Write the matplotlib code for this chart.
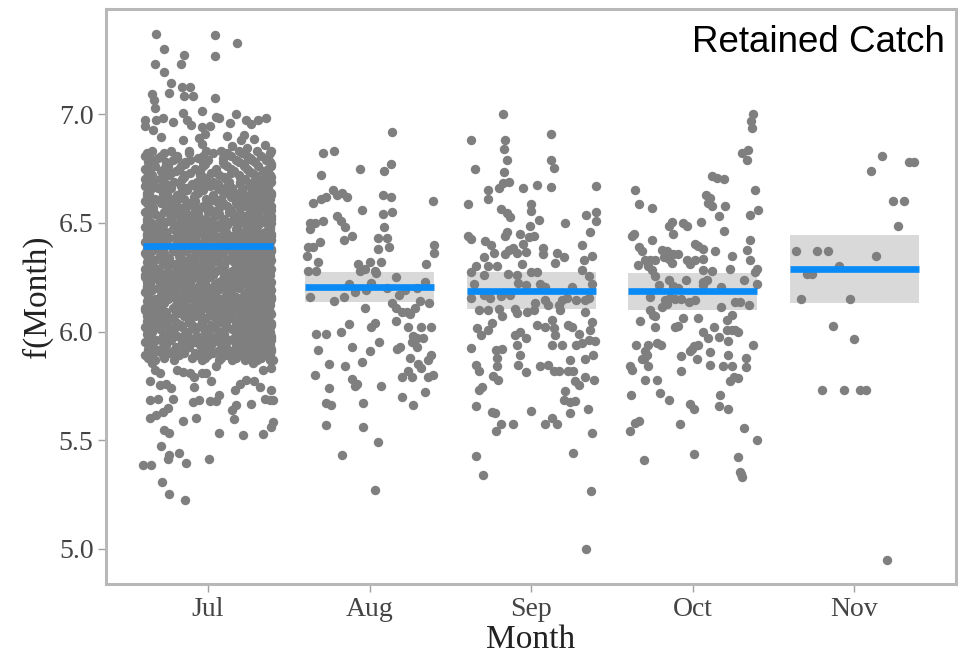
import matplotlib
matplotlib.use('Agg')
import matplotlib.pyplot as plt

months = ['Jul', 'Aug', 'Sep', 'Oct', 'Nov']
fit = [6.395, 6.206, 6.187, 6.187, 6.289]
lower = [6.37, 6.137, 6.102, 6.099, 6.13]
upper = [6.42, 6.275, 6.275, 6.271, 6.446]

# partial residuals: (jitter offset, value)
jul_tails = [
    (-0.32, 7.37), (0.04, 7.365), (0.18, 7.33), (-0.275, 7.30), (-0.15, 7.275), (-0.165, 7.23),
    (0.04, 7.27), (-0.33, 7.23), (-0.27, 7.195), (-0.23, 7.145), (-0.24, 7.10), (-0.16, 7.125),
    (-0.11, 7.125), (-0.15, 7.085), (-0.095, 7.085), (-0.345, 7.095), (-0.335, 7.065), (-0.33, 7.03),
    (0.045, 7.075), (-0.035, 7.015), (-0.155, 7.005), (-0.13, 6.975), (-0.105, 6.95), (0.05, 6.99),
    (0.065, 6.985), (0.175, 7.0), (-0.39, 6.975), (-0.39, 6.945), (-0.32, 6.975), (-0.28, 6.985),
    (-0.22, 6.965), (0.135, 6.96), (0.235, 6.975), (0.31, 6.975), (0.36, 6.985), (0.265, 6.955),
    (-0.04, 6.94), (0.01, 6.945), (-0.02, 6.91), (-0.34, 6.93), (-0.29, 6.895), (-0.155, 6.88),
    (-0.055, 6.89), (0.12, 6.90), (0.225, 6.905), (0.205, 6.88), (0.285, 6.885), (0.35, 6.86),
    (-0.04, 6.865), (0.145, 6.855), (0.24, 6.845),
    (0.07, 5.535), (0.215, 5.525), (0.34, 5.53), (0.39, 5.56), (0.40, 5.585), (-0.27, 5.545),
    (-0.24, 5.535), (-0.155, 5.59), (-0.075, 5.60), (0.16, 5.595), (-0.29, 5.475), (-0.25, 5.415),
    (-0.24, 5.43), (-0.18, 5.44), (-0.135, 5.395), (0.005, 5.415), (-0.40, 5.385), (-0.355, 5.385),
    (-0.285, 5.305), (-0.24, 5.25), (-0.14, 5.225),
    (-0.36, 5.60), (-0.32, 5.615), (-0.28, 5.63), (-0.25, 5.65), (-0.36, 5.685), (-0.31, 5.69),
    (-0.22, 5.69), (-0.095, 5.675), (-0.055, 5.685), (0.01, 5.68), (0.05, 5.68), (0.145, 5.64),
    (0.175, 5.66), (0.265, 5.665), (0.35, 5.69), (0.38, 5.685), (0.40, 5.685), (0.39, 5.73),
    (-0.36, 5.77), (-0.30, 5.755), (-0.26, 5.76), (-0.23, 5.74), (-0.085, 5.745), (0.02, 5.77),
    (0.07, 5.71), (0.165, 5.73), (0.195, 5.76), (0.235, 5.775), (0.285, 5.77), (0.32, 5.745),
    (0.05, 5.84), (-0.35, 5.855), (-0.33, 5.825), (-0.30, 5.81), (-0.195, 5.825), (-0.155, 5.815),
    (-0.115, 5.81), (-0.085, 5.79), (-0.04, 5.81), (-0.01, 5.81), (0.275, 5.855), (0.34, 5.825),
    (0.39, 5.83), (0.40, 5.87), (0.38, 5.89), (0.34, 5.94),
]

# dense July block: value (x100) -> jitter offsets (x100)
jul_rows = {
    683: [-35, -12, 8, 30], 682: [-27, 3, 21, 38], 681: [-39, -19, 14, 33], 680: [-31, -6, 26],
    679: [-22, 0, 17, 36], 678: [-37, -14, 9, 29], 677: [-26, -2, 22, 39], 676: [-33, -17, 12, 31],
    675: [-39, -8, 5, 24, 37], 674: [-29, -20, 16, 34], 673: [-36, -11, 2, 27], 672: [-24, -5, 19, 38],
    671: [-38, -15, 10, 30], 670: [-30, -1, 23, 35], 669: [-34, -21, -7, 13, 28, 39],
    668: [-26, -10, 6, 20, 33], 667: [-39, -17, 1, 25, 37], 666: [-31, -23, -4, 15, 30],
    665: [-36, -13, 8, 21, 35], 664: [-28, -6, 11, 27, 39], 663: [-38, -19, 3, 18, 32],
    662: [-25, -9, 14, 24, 36], 661: [-33, -15, -1, 22, 38], 660: [-39, -21, 5, 17, 29],
    659: [-29, -11, 9, 26, 34], 658: [-35, -3, 12, 31, 39], 657: [-23, -16, 7, 20, 36],
    656: [-37, -8, 2, 28, 33],
    655: [-39, -27, -14, 0, 13, 26, 38], 654: [-33, -20, -6, 7, 19, 31, 37],
    653: [-37, -23, -10, 4, 16, 29, 39], 652: [-30, -17, -2, 10, 23, 34],
    651: [-38, -25, -12, 1, 15, 27, 36], 650: [-35, -21, -7, 8, 20, 32, 39],
    649: [-28, -15, -3, 12, 24, 37], 648: [-39, -31, -18, -5, 6, 18, 30],
    647: [-34, -22, -9, 3, 17, 28, 38], 646: [-26, -13, 0, 11, 22, 35],
    645: [-38, -29, -16, -4, 9, 25, 33], 644: [-32, -19, -8, 5, 14, 27, 39],
    643: [-36, -24, -11, 2, 19, 30, 36], 642: [-29, -17, -1, 13, 23, 34],
    641: [-39, -26, -12, 6, 16, 28, 38], 640: [-33, -20, -6, 8, 21, 31, 37],
    639: [-37, -28, -15, -2, 11, 25, 35], 638: [-31, -9, 4, 18, 29, 39],
    637: [-35, -22, -13, 1, 15, 26, 33], 636: [-39, -27, -5, 9, 20, 36],
    635: [-30, -18, -8, 7, 23, 32, 38], 634: [-36, -24, -11, 3, 14, 28],
    633: [-33, -16, -3, 12, 19, 34, 39], 632: [-38, -26, -10, 6, 25, 31],
    631: [-28, -21, -7, 2, 17, 29, 37], 630: [-35, -14, 0, 10, 22, 35],
    629: [-39, -31, -19, -4, 8, 27, 33], 628: [-25, -12, 5, 15, 24, 38],
    627: [-37, -29, -17, -6, 11, 20, 36], 626: [-32, -22, -9, 3, 18, 30],
    625: [-39, -27, -14, 1, 13, 26, 34], 624: [-34, -19, -2, 9, 23, 37],
    623: [-30, -24, -11, 7, 16, 29, 39], 622: [-36, -16, -5, 4, 21, 32],
    621: [-38, -28, -13, -1, 12, 25, 35], 620: [-31, -20, -8, 10, 19, 30, 38],
    619: [-35, -23, -3, 6, 27, 33], 618: [-39, -26, -15, 2, 14, 24, 36],
    617: [-29, -10, -6, 11, 22, 31], 616: [-37, -21, -12, 5, 17, 28, 39],
    615: [-33, -25, -4, 8, 20, 35], 614: [-38, -18, -9, 0, 15, 26, 32],
    613: [-27, -14, 3, 12, 23, 37], 612: [-35, -30, -7, 9, 18, 29, 38],
    611: [-39, -22, -11, -2, 13, 25, 34], 610: [-32, -17, 4, 16, 21, 36],
    609: [-36, -26, -13, 1, 10, 27, 31], 608: [-29, -20, -5, 7, 19, 33, 39],
    607: [-38, -15, -8, 3, 24, 30], 606: [-34, -23, -1, 14, 22, 37],
    605: [-31, -27, -12, 6, 11, 28, 35], 604: [-37, -19, -4, 9, 17, 32, 39],
    603: [-25, -10, 2, 20, 26, 34], 602: [-39, -33, -16, -6, 12, 23, 38],
    601: [-30, -21, -9, 5, 15, 29, 36], 600: [-35, -24, -2, 8, 18, 31],
    599: [-38, -14, 0, 21, 27, 37], 598: [-28, -19, -7, 10, 24, 33],
    597: [-36, -11, 4, 16, 30, 39], 596: [-32, -23, -3, 13, 26, 35],
    595: [-39, -16, -9, 7, 20, 31], 594: [-26, -5, 2, 17, 28, 38],
    593: [-34, -20, -12, 11, 23, 36], 592: [-37, -29, -1, 9, 25, 32],
    591: [-31, -15, 6, 14, 29, 39], 590: [-35, -24, -8, 3, 19, 34],
    589: [-39, -18, 0, 12, 22, 37], 588: [-27, -10, 8, 26, 33], 587: [-33, -21, -4, 15, 30],
}

# second pass of the July block, filling between the first
jul_rows_b = {
    683: [-23, -1, 19, 39], 682: [-38, -12, 12], 681: [-29, -3, 24], 680: [-19, 9, 37],
    679: [-35, -11, 27], 678: [-26, -3, 19, 38], 677: [-36, -14, 10], 676: [-25, -3, 22, 39],
    675: [-27, -18, 14], 674: [-38, -5, 5, 25], 673: [-23, 14, 37], 672: [-35, -15, 7, 29],
    671: [-27, -3, 20, 39], 670: [-39, -16, 11], 669: [3, 20], 668: [-37, -2, 27],
    667: [-28, -8, 12], 666: [-13, 6, 37], 665: [-25, -3, 28], 664: [-38, -17, 19],
    663: [-28, -8, 25, 39], 662: [-36, -17, 3], 661: [-24, 8, 30], 660: [-30, -8, 37],
    659: [-38, -20, 0, 17], 658: [-24, -13, 22], 657: [-34, -5, 28], 656: [-26, -17, 14, 39],
    655: [-20, 6], 654: [-13, 25], 653: [-30, 22], 652: [-38, -9, 16, 39], 651: [-5, 21],
    650: [-28, 0], 649: [-38, -21, 4, 30], 648: [-11, 24, 38], 647: [-16, 10],
    646: [-37, -19, -6, 28], 645: [2, 17, 39], 644: [-38, -13, 21], 643: [-17, 10],
    642: [-38, -8, 6, 39], 641: [-19, -3, 22], 640: [-13, 1, 14], 639: [-8, 4, 18],
    638: [-38, -20, 11, 23], 637: [-6, 8, 39], 636: [-17, 2, 28], 635: [-38, -1, 15],
    634: [-17, 21, 36], 633: [-25, 4, 27], 632: [-18, -2, 16, 38], 631: [-36, -14, 10, 23],
    630: [-25, -6, 29], 629: [-11, 17, 39], 628: [-35, -3, 31], 627: [2, 28],
    626: [-39, -15, 10, 38], 625: [-20, -6, 19], 624: [-26, -10, 16, 30], 623: [-38, -2, 22],
    622: [-26, 12, 38], 621: [-20, 5, 19], 620: [-38, 1, 25], 619: [-13, 15, 39],
    618: [-7, 30], 617: [-37, -19, 2, 38], 616: [-29, -3, 11], 615: [-14, 27, 39],
    614: [-27, 7, 38], 613: [-36, -5, 30], 612: [-20, 0, 24], 611: [-30, 5, 20],
    610: [-39, -8, 28], 609: [-5, 19, 38], 608: [-38, -12, 26], 607: [-26, 12, 37],
    606: [-12, 6, 29], 605: [-38, -4, 19], 604: [-28, -11, 24], 603: [-36, -17, 11, 39],
    602: [-24, 3, 30], 601: [-38, -2, 22], 600: [-13, 25, 38], 599: [-26, 10],
    598: [-37, 1, 17, 39], 597: [-24, 23], 596: [-13, 5, 39], 595: [-28, -1, 37],
    594: [-36, -15, 10], 593: [-27, 0, 30], 592: [-14, 17, 39], 591: [-22, -4, 21],
    590: [-15, 11, 27], 589: [-28, -7, 30], 588: [-37, -2, 17], 587: [7, 23, 38],
}

aug_pts = [
    (0.14, 6.92), (-0.29, 6.82), (-0.22, 6.83), (-0.30, 6.72), (-0.06, 6.75), (0.13, 6.77), (0.09, 6.74),
    (-0.35, 6.59), (-0.30, 6.61), (-0.27, 6.62), (-0.23, 6.65), (-0.20, 6.63), (-0.17, 6.64), (-0.14, 6.62),
    (-0.05, 6.56), (0.08, 6.63), (0.13, 6.62), (0.08, 6.54), (0.14, 6.55), (0.39, 6.60),
    (-0.37, 6.50), (-0.34, 6.50), (-0.37, 6.47), (-0.29, 6.51), (-0.20, 6.53), (-0.18, 6.51), (-0.15, 6.48),
    (-0.11, 6.44), (-0.16, 6.42), (-0.31, 6.41), (-0.38, 6.39), (-0.35, 6.39), (-0.39, 6.35),
    (-0.32, 6.32), (-0.33, 6.28), (-0.38, 6.28),
    (0.09, 6.48), (0.05, 6.43), (0.11, 6.43), (0.12, 6.39), (0.05, 6.38), (0.40, 6.40), (0.40, 6.36),
    (-0.07, 6.31), (0.00, 6.32), (0.07, 6.32), (-0.06, 6.28), (-0.03, 6.29), (0.03, 6.28), (0.04, 6.27),
    (0.01, 6.225), (-0.02, 6.19), (-0.13, 6.22), (-0.09, 6.18), (0.16, 6.25), (0.35, 6.31), (0.34, 6.23),
    (-0.37, 6.16), (-0.22, 6.14), (-0.16, 6.16), (0.11, 6.20), (0.18, 6.17), (0.22, 6.19), (0.29, 6.20),
    (0.14, 6.13), (0.16, 6.11), (0.20, 6.09), (0.23, 6.09), (0.25, 6.08), (0.31, 6.14), (0.37, 6.13),
    (0.28, 6.11), (-0.03, 6.11), (0.16, 6.05), (-0.33, 5.99), (-0.27, 5.99), (-0.18, 6.00), (-0.13, 6.035),
    (0.01, 6.02), (0.03, 6.04), (0.24, 6.02), (0.32, 6.02), (0.38, 6.02), (0.27, 5.98), (0.29, 5.97),
    (0.33, 5.97), (0.26, 5.95), (0.29, 5.93), (-0.32, 5.915), (-0.11, 5.93), (0.00, 5.91), (0.06, 5.95),
    (0.17, 5.92), (0.19, 5.93), (0.25, 5.88), (0.38, 5.89), (0.36, 5.87),
    (-0.25, 5.85), (-0.15, 5.84), (-0.05, 5.86), (0.30, 5.85), (0.32, 5.83), (0.24, 5.82), (0.26, 5.79),
    (0.20, 5.79), (0.36, 5.79), (0.39, 5.80), (-0.34, 5.80), (-0.11, 5.78), (-0.09, 5.75), (-0.08, 5.76),
    (0.07, 5.75), (-0.25, 5.74), (-0.27, 5.67), (-0.24, 5.66), (-0.04, 5.67), (0.20, 5.70), (0.27, 5.66),
    (0.34, 5.72), (-0.27, 5.57), (-0.04, 5.56), (0.05, 5.49), (-0.17, 5.43), (0.03, 5.27),
]

sep_pts = [
    (-0.175, 7.00), (-0.37, 6.88), (-0.165, 6.88), (-0.17, 6.84), (0.12, 6.91), (-0.15, 6.79), (-0.35, 6.75),
    (0.12, 6.79), (0.14, 6.755), (-0.17, 6.735), (-0.20, 6.66), (-0.175, 6.685), (-0.14, 6.69), (-0.27, 6.65),
    (-0.27, 6.61), (-0.05, 6.66), (0.035, 6.675), (0.12, 6.665), (0.40, 6.67), (-0.39, 6.585), (-0.19, 6.565),
    (-0.15, 6.545), (-0.13, 6.525), (0.00, 6.585), (0.00, 6.555), (0.045, 6.515), (-0.01, 6.485),
    (0.015, 6.44), (-0.015, 6.435), (0.21, 6.50), (0.34, 6.535), (0.40, 6.55), (0.40, 6.51), (0.365, 6.46),
    (-0.39, 6.44), (-0.37, 6.425), (-0.15, 6.46), (-0.16, 6.44), (-0.07, 6.45), (-0.05, 6.405),
    (-0.285, 6.415), (-0.25, 6.40), (-0.23, 6.36), (-0.14, 6.375), (-0.11, 6.385), (-0.09, 6.36),
    (-0.16, 6.355), (-0.03, 6.365), (0.07, 6.385), (0.075, 6.355), (0.16, 6.36), (0.20, 6.345),
    (0.15, 6.315), (0.315, 6.40), (0.375, 6.35), (0.325, 6.33), (-0.29, 6.345), (-0.265, 6.30),
    (-0.295, 6.26), (-0.345, 6.30), (-0.375, 6.275), (-0.21, 6.30), (-0.06, 6.31), (-0.145, 6.265),
    (-0.09, 6.26), (0.00, 6.275), (0.035, 6.275), (-0.355, 6.22), (-0.295, 6.17), (-0.255, 6.155),
    (-0.375, 6.155), (-0.08, 6.225), (-0.035, 6.215), (0.055, 6.22), (0.085, 6.205), (0.25, 6.205),
    (0.315, 6.285), (0.355, 6.255), (0.375, 6.22), (-0.19, 6.165), (-0.13, 6.17), (0.085, 6.145),
    (0.105, 6.12), (0.025, 6.13), (0.19, 6.145), (0.22, 6.155), (0.17, 6.12), (0.18, 6.10), (0.28, 6.145),
    (0.335, 6.145), (0.355, 6.155), (-0.325, 6.10), (-0.27, 6.10), (-0.20, 6.105), (-0.18, 6.07),
    (-0.10, 6.105), (-0.09, 6.085), (-0.025, 6.09), (0.015, 6.10), (0.33, 6.09), (0.13, 6.055),
    (0.14, 6.015), (0.035, 6.03), (0.085, 6.02), (0.23, 6.03), (0.25, 6.02), (0.375, 6.045), (0.365, 6.005),
    (0.295, 5.99), (0.315, 5.945), (0.355, 5.96), (0.395, 5.955), (0.28, 5.94), (-0.335, 6.015),
    (-0.31, 5.985), (-0.265, 6.005), (-0.245, 6.04), (-0.10, 5.985), (-0.07, 6.00), (-0.035, 5.97),
    (-0.09, 5.94), (0.15, 5.985), (0.13, 5.94), (0.19, 5.94), (-0.37, 5.925), (-0.22, 5.915), (-0.18, 5.92),
    (-0.21, 5.88), (-0.07, 5.89), (0.24, 5.87), (0.33, 5.875), (0.385, 5.89), (-0.345, 5.845), (-0.325, 5.82),
    (-0.21, 5.84), (-0.235, 5.795), (-0.205, 5.775), (-0.08, 5.845), (-0.035, 5.815), (0.055, 5.84),
    (0.105, 5.845), (0.14, 5.82), (0.17, 5.82), (0.23, 5.82), (0.26, 5.82), (0.27, 5.77), (0.295, 5.755),
    (0.33, 5.79), (0.39, 5.775), (-0.305, 5.745), (-0.325, 5.73), (0.21, 5.725), (0.20, 5.685), (0.24, 5.675),
    (0.27, 5.68), (-0.34, 5.655), (-0.245, 5.63), (-0.225, 5.625), (0.00, 5.635), (0.24, 5.625), (0.35, 5.645),
    (-0.19, 5.575), (-0.22, 5.54), (-0.115, 5.575), (0.085, 5.575), (0.13, 5.60), (0.16, 5.575),
    (0.375, 5.535), (-0.34, 5.425), (-0.30, 5.34), (0.26, 5.44), (0.37, 5.265), (0.34, 5.00),
]

oct_pts = [
    (0.375, 7.00), (0.36, 6.97), (0.365, 6.935), (0.305, 6.82), (0.34, 6.835), (0.335, 6.79), (-0.355, 6.65),
    (0.12, 6.715), (0.15, 6.705), (0.19, 6.70), (0.08, 6.63), (0.105, 6.615), (0.12, 6.58), (0.095, 6.59),
    (0.20, 6.58), (0.385, 6.65), (-0.33, 6.585), (-0.255, 6.57), (0.16, 6.53), (0.355, 6.535), (0.405, 6.56),
    (-0.13, 6.505), (-0.15, 6.485), (-0.12, 6.45), (-0.06, 6.50), (-0.035, 6.485), (0.05, 6.505),
    (0.19, 6.465), (-0.365, 6.45), (-0.375, 6.44), (-0.255, 6.42), (-0.335, 6.39), (-0.315, 6.37),
    (0.015, 6.405), (0.035, 6.395), (0.065, 6.38), (0.14, 6.37), (0.355, 6.42), (0.335, 6.375),
    (-0.19, 6.375), (-0.16, 6.37), (-0.12, 6.355), (-0.09, 6.355), (-0.15, 6.335), (-0.18, 6.345),
    (0.24, 6.35), (0.355, 6.33), (-0.295, 6.33), (-0.265, 6.33), (-0.235, 6.33), (-0.13, 6.315),
    (-0.035, 6.33), (-0.015, 6.31), (0.015, 6.33), (0.065, 6.335), (-0.34, 6.305), (-0.28, 6.30),
    (-0.255, 6.285), (0.06, 6.285), (0.12, 6.28), (0.23, 6.29), (0.395, 6.29), (0.385, 6.275),
    (-0.235, 6.255), (-0.21, 6.215), (-0.15, 6.235), (-0.045, 6.235), (0.065, 6.23), (0.06, 6.215),
    (0.085, 6.235), (0.315, 6.235), (0.40, 6.22), (-0.12, 6.21), (-0.09, 6.20), (0.175, 6.205),
    (-0.265, 6.16), (-0.17, 6.145), (-0.14, 6.155), (-0.11, 6.15), (-0.07, 6.15), (-0.025, 6.135),
    (0.015, 6.145), (-0.19, 6.115), (-0.16, 6.125), (0.175, 6.115), (0.26, 6.135), (0.295, 6.135),
    (0.345, 6.12), (-0.265, 6.10), (-0.245, 6.075), (-0.235, 6.07), (0.24, 6.075), (0.21, 6.055),
    (-0.325, 6.05), (-0.06, 6.06), (0.035, 6.06), (-0.11, 6.02), (-0.09, 6.025), (-0.235, 6.02),
    (0.13, 6.02), (0.21, 6.005), (0.24, 6.005), (0.26, 6.005), (0.28, 6.00), (0.065, 6.00), (0.095, 5.97),
    (0.16, 5.975), (0.22, 5.955), (-0.35, 5.94), (-0.28, 5.94), (-0.22, 5.945), (-0.195, 5.94),
    (-0.295, 5.91), (-0.285, 5.89), (-0.315, 5.875), (-0.30, 5.875), (-0.005, 5.92), (-0.015, 5.91),
    (0.01, 5.935), (0.035, 5.94), (0.105, 5.905), (0.22, 5.89), (0.375, 5.94), (-0.07, 5.885),
    (0.025, 5.875), (0.33, 5.88), (-0.39, 5.84), (-0.375, 5.825), (-0.275, 5.84), (0.105, 5.845),
    (0.185, 5.84), (0.245, 5.84), (0.33, 5.835), (-0.07, 5.82), (-0.295, 5.775), (-0.22, 5.775),
    (0.255, 5.79), (0.28, 5.785), (0.23, 5.77), (-0.38, 5.71), (-0.20, 5.715), (-0.145, 5.685), (0.17, 5.71),
    (-0.015, 5.665), (0.01, 5.645), (0.16, 5.655), (0.22, 5.645), (-0.335, 5.59), (-0.39, 5.54),
    (-0.355, 5.58), (-0.08, 5.575), (0.315, 5.555), (0.395, 5.50), (-0.305, 5.41), (0.005, 5.435),
    (0.28, 5.42), (0.295, 5.355), (0.305, 5.33), (0.30, 5.345),
]

nov_pts = [
    (0.17, 6.81), (0.10, 6.74), (0.34, 6.78), (0.37, 6.78), (0.24, 6.60), (0.305, 6.60), (0.27, 6.485),
    (-0.36, 6.37), (-0.23, 6.37), (-0.165, 6.37), (0.135, 6.35), (-0.095, 6.30), (-0.295, 6.265),
    (-0.26, 6.265), (-0.33, 6.15), (-0.03, 6.15), (-0.13, 6.025), (0.00, 5.965), (-0.20, 5.73),
    (-0.065, 5.73), (0.035, 5.73), (0.07, 5.73), (0.205, 4.95),
]

jul_pts = list(jul_tails)
for rows in (jul_rows, jul_rows_b):
    jul_pts += [(dx / 100, y / 100) for y, row in rows.items() for dx in row]
groups = [jul_pts, aug_pts, sep_pts, oct_pts, nov_pts]

serif = 'Liberation Serif'
fig = plt.figure(figsize=(9.58, 6.63), dpi=100)
ax = fig.add_axes([106 / 958, 1 - 584 / 663, 850 / 958, 575 / 663])

half = 0.4
for i, pts in enumerate(groups):
    ax.fill_between([i - half, i + half], lower[i], upper[i], color='#d9d9d9', lw=0, zorder=1)
    ax.scatter([i + p[0] for p in pts], [p[1] for p in pts], s=46, color='#7f7f7f', lw=0, zorder=2)
    ax.plot([i - half, i + half], [fit[i], fit[i]], color='#0a8af5', lw=4.8,
            solid_capstyle='butt', zorder=3)

ax.set_xlim(-0.632, 4.629)
ax.set_ylim(4.8375, 7.485)
ax.set_xticks(range(len(months)))
ax.set_xticklabels(months)
ax.set_yticks([5.0, 5.5, 6.0, 6.5, 7.0])
ax.set_yticklabels(['5.0', '5.5', '6.0', '6.5', '7.0'])
for sp in ax.spines.values():
    sp.set_color('#b8b8b8')
    sp.set_linewidth(2.2)
ax.tick_params(length=6, width=1, color='#a0a0a0', labelsize=20, labelcolor='#444444', pad=3)
for lab in ax.get_xticklabels() + ax.get_yticklabels():
    lab.set_family(serif)

ax.set_xlabel('Month', fontsize=24, family=serif, color='#222222', labelpad=2)
ax.set_ylabel('f(Month)', fontsize=24, family=serif, color='#222222', labelpad=4)
fig.text(945 / 958, 1 - 43 / 663, 'Retained Catch', ha='right', va='center',
         fontsize=26.5, family='Liberation Sans', color='black')

fig.savefig('out.png', dpi=100)
